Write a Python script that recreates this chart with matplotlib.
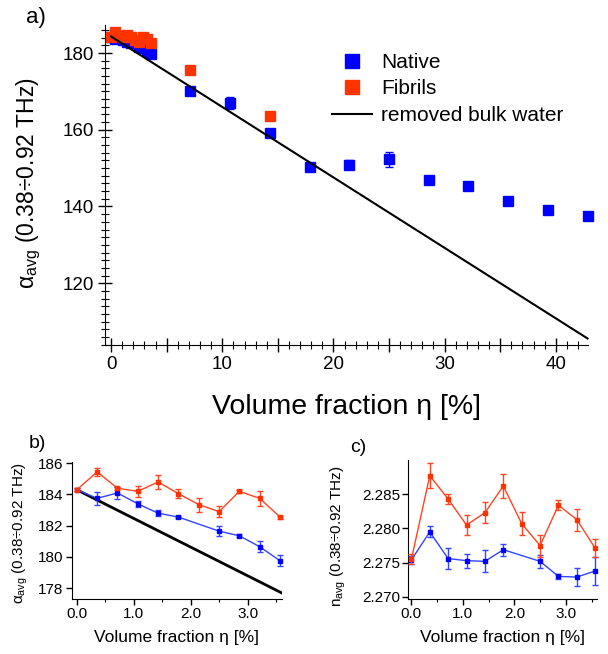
import matplotlib
matplotlib.use("Agg")
import matplotlib.pyplot as plt
import matplotlib.ticker as ticker
from matplotlib.lines import Line2D

plt.rcParams.update({
    "font.family": ["Liberation Sans", "DejaVu Sans"],
    "mathtext.fontset": "custom",
    "mathtext.rm": "Liberation Sans",
    "mathtext.it": "Liberation Sans:italic",
    "axes.spines.top": False,
    "axes.spines.right": False,
})

BLUE = "#0000FF"
RED = "#FF3300"
BLUE_L = "#3344FF"
RED_L = "#FF4422"

# ── data: low concentrations (panels b, c and start of a) ──────────────────
eta_nat = [0.0, 0.357, 0.714, 1.071, 1.429, 1.786, 2.5, 2.857, 3.214, 3.571]
alpha_nat = [184.3, 183.75, 184.1, 183.4, 182.8, 182.55, 181.65, 181.35, 180.65, 179.75]
alpha_nat_err = [0.1, 0.4, 0.4, 0.2, 0.2, 0.05, 0.3, 0.1, 0.35, 0.35]
n_nat = [2.2754, 2.2795, 2.2756, 2.2753, 2.2752, 2.2769, 2.2752, 2.2730, 2.2729, 2.2738]
n_nat_err = [0.0006, 0.0008, 0.0015, 0.0010, 0.0016, 0.0009, 0.0009, 0.0004, 0.0013, 0.0020]

eta_fib = [0.0, 0.357, 0.714, 1.071, 1.429, 1.786, 2.143, 2.5, 2.857, 3.214, 3.571]
alpha_fib = [184.3, 185.45, 184.4, 184.2, 184.8, 184.05, 183.35, 182.9, 184.2, 183.75, 182.55]
alpha_fib_err = [0.1, 0.25, 0.1, 0.35, 0.45, 0.3, 0.45, 0.35, 0.1, 0.5, 0.1]
n_fib = [2.2755, 2.2877, 2.2843, 2.2805, 2.2823, 2.2862, 2.2807, 2.2775, 2.2834, 2.2813, 2.2771]
n_fib_err = [0.0007, 0.0018, 0.0007, 0.0014, 0.0015, 0.0017, 0.0017, 0.0016, 0.0007, 0.0016, 0.0013]

# ── data: high concentrations (panel a only) ───────────────────────────────
eta_nat_hi = [7.14, 10.71, 14.29, 17.86, 21.43, 25.0, 28.57, 32.14, 35.71, 39.29, 42.86]
alpha_nat_hi = [170.0, 167.0, 159.1, 150.4, 150.9, 152.3, 147.0, 145.4, 141.5, 139.2, 137.6]
alpha_nat_hi_err = [0.6, 1.5, 0.6, 0.5, 1.2, 2.0, 0.4, 0.8, 0.4, 0.4, 0.4]

eta_fib_hi = [7.14, 14.29]
alpha_fib_hi = [175.6, 163.7]
alpha_fib_hi_err = [0.3, 0.3]

# removed bulk water (straight line)
bulk_eta = [0.0, 42.86]
bulk_alpha = [184.3, 105.6]

fig = plt.figure(figsize=(6.08, 6.54), dpi=100)
W, H = 608, 654

# ── a) ─────────────────────────────────────────────────────────────────────
ax = fig.add_axes([105 / W, 1 - 345 / H, 483 / W, 320 / H])
ax.errorbar(eta_nat + eta_nat_hi, alpha_nat + alpha_nat_hi,
            yerr=alpha_nat_err + alpha_nat_hi_err, fmt="s", color=BLUE,
            ms=7, capsize=3, elinewidth=1, capthick=1, clip_on=False, zorder=3)
ax.errorbar(eta_fib + eta_fib_hi, alpha_fib + alpha_fib_hi,
            yerr=alpha_fib_err + alpha_fib_hi_err, fmt="s", color=RED,
            ms=7, capsize=3, elinewidth=1, capthick=1, clip_on=False, zorder=4)
ax.plot(bulk_eta, bulk_alpha, color="black", lw=1.5, zorder=5, clip_on=False)

ax.set_xlim(-0.55, 42.9)
ax.set_ylim(103.9, 187.3)
ax.xaxis.set_major_locator(ticker.MultipleLocator(5))
ax.xaxis.set_minor_locator(ticker.MultipleLocator(1))
ax.xaxis.set_major_formatter(ticker.FuncFormatter(
    lambda v, _: f"{int(round(v))}" if round(v) % 10 == 0 else ""))
ax.yaxis.set_major_locator(ticker.MultipleLocator(20))
ax.yaxis.set_minor_locator(ticker.MultipleLocator(2))
ax.tick_params(which="major", direction="inout", length=10, width=1,
               labelsize=13.5, pad=3)
ax.tick_params(which="minor", direction="inout", length=6, width=0.8)
ax.set_xlabel("Volume fraction η [%]", fontsize=20.5, labelpad=15)
ax.set_ylabel(r"$\mathrm{\alpha_{avg}}$ (0.38÷0.92 THz)", fontsize=16.5)
ax.yaxis.set_label_coords(-0.128, 0.505)

handles = [
    Line2D([], [], ls="none", marker="s", color=BLUE, ms=10),
    Line2D([], [], ls="none", marker="s", color=RED, ms=10),
    Line2D([], [], color="black", lw=1.5),
]
ax.legend(handles, ["Native", "Fibrils", "removed bulk water"], frameon=False,
          fontsize=15, loc="upper left",
          bbox_to_anchor=(332 / W, 1 - 53 / H), bbox_transform=fig.transFigure,
          handlelength=1.9, handletextpad=0.45, labelspacing=0.36,
          borderpad=0, borderaxespad=0)

fig.text(36 / W, 1 - 17 / H, "a)", fontsize=16, ha="center", va="center")

# ── b) ─────────────────────────────────────────────────────────────────────
bx = fig.add_axes([71.7 / W, 1 - 599 / H, 210 / W, 137.3 / H])
bx.plot(bulk_eta, bulk_alpha, color="black", lw=2, zorder=1)
bx.errorbar(eta_nat, alpha_nat, yerr=alpha_nat_err, fmt="-s", color=BLUE_L,
            mfc=BLUE, mec=BLUE, ms=3.5, lw=1, capsize=2, elinewidth=1,
            clip_on=False, zorder=3)
bx.errorbar(eta_fib, alpha_fib, yerr=alpha_fib_err, fmt="-s", color=RED_L,
            mfc=RED, mec=RED, ms=3.5, lw=1, capsize=2, elinewidth=1,
            clip_on=False, zorder=4)
bx.set_xlim(-0.09, 3.6)
bx.set_ylim(177.3, 186.1)
bx.xaxis.set_major_locator(ticker.MultipleLocator(1))
bx.xaxis.set_minor_locator(ticker.MultipleLocator(0.5))
bx.xaxis.set_major_formatter(ticker.FormatStrFormatter("%.1f"))
bx.yaxis.set_major_locator(ticker.MultipleLocator(2))
bx.tick_params(which="major", direction="out", length=4, width=1, labelsize=11, pad=2)
bx.tick_params(which="minor", direction="out", length=2.5, width=0.8)
bx.set_xlabel("Volume fraction η [%]", fontsize=12.5, labelpad=6)
bx.set_ylabel(r"$\mathrm{\alpha_{avg}}$ (0.38÷0.92 THz)", fontsize=11)
bx.yaxis.set_label_coords(-0.2, 0.48)
fig.text(37 / W, 1 - 443 / H, "b)", fontsize=14, ha="center", va="center")

# ── c) ─────────────────────────────────────────────────────────────────────
cx = fig.add_axes([408.3 / W, 1 - 599 / H, 188.4 / W, 139 / H])
cx.errorbar(eta_nat, n_nat, yerr=n_nat_err, fmt="-s", color=BLUE_L,
            mfc=BLUE, mec=BLUE, ms=3.5, lw=1, capsize=2, elinewidth=1,
            clip_on=False, zorder=3)
cx.errorbar(eta_fib, n_fib, yerr=n_fib_err, fmt="-s", color=RED_L,
            mfc=RED, mec=RED, ms=3.5, lw=1, capsize=2, elinewidth=1,
            clip_on=False, zorder=4)
cx.set_xlim(-0.06, 3.6)
cx.set_ylim(2.2697, 2.2900)
cx.xaxis.set_major_locator(ticker.MultipleLocator(1))
cx.xaxis.set_minor_locator(ticker.MultipleLocator(0.5))
cx.xaxis.set_major_formatter(ticker.FormatStrFormatter("%.1f"))
cx.yaxis.set_major_locator(ticker.FixedLocator([2.270, 2.275, 2.280, 2.285]))
cx.yaxis.set_major_formatter(ticker.FormatStrFormatter("%.3f"))
cx.tick_params(which="major", direction="out", length=4, width=1, labelsize=11, pad=2)
cx.tick_params(which="minor", direction="out", length=2.5, width=0.8)
cx.set_xlabel("Volume fraction η [%]", fontsize=12.5, labelpad=6)
cx.set_ylabel(r"$\mathrm{n_{avg}}$ (0.38÷0.92 THz)", fontsize=11)
cx.yaxis.set_label_coords(-0.32, 0.45)
fig.text(358 / W, 1 - 447 / H, "c)", fontsize=14, ha="center", va="center")

fig.savefig("out.png", dpi=100)
